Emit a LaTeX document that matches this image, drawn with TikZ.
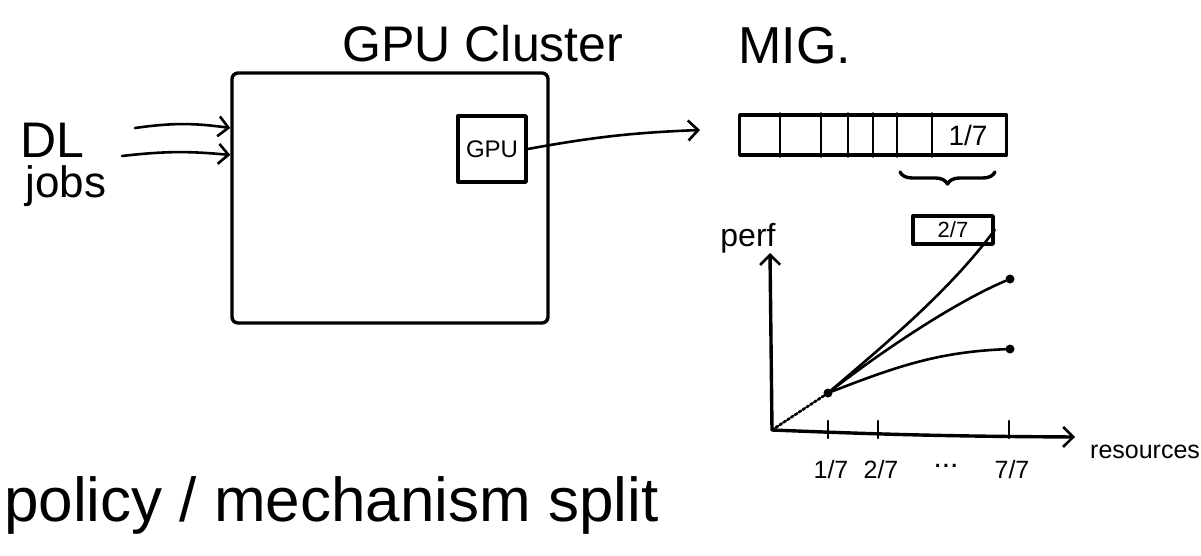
\documentclass[tikz,border=0pt]{standalone}
\usepackage{fontspec}
\setmainfont{Liberation Sans}
\usetikzlibrary{arrows.meta,decorations.pathreplacing}
\tikzset{
  ink/.style={line width=3.4pt, line cap=round, line join=round},
  thin ink/.style={line width=2.6pt, line cap=round, line join=round},
  barb/.style={-{Straight Barb[length=10pt,width=20pt,line width=2.6pt]}},
  lbl/.style={inner sep=0pt, font=#1},
  pt dot/.style={circle, fill, inner sep=0pt, minimum size=9pt}
}
\begin{document}
\begin{tikzpicture}[x=1pt,y=-1pt]
\useasboundingbox (0,0) rectangle (1201,556);

% titles and labels
\node[lbl=\fontsize{50}{54}\selectfont] (title) at (483,44) {GPU Cluster};
\node[lbl=\fontsize{50}{54}\selectfont] (dl) at (52,140) {DL};
\node[lbl=\fontsize{44}{48}\selectfont] (jobs) at (66,186) {jobs};
\node[lbl=\fontsize{52}{56}\selectfont] (mig) at (795,46) {MIG.};
\node[lbl=\fontsize{62}{66}\selectfont, anchor=west] (policy) at (4,505) {policy / mechanism split};

% the cluster
\node[ink, draw, rounded corners=6pt, minimum width=316pt, minimum height=250pt] (cluster) at (390,198) {};
\coordinate (in1) at (cluster.west |- 0,128);
\coordinate (in2) at (cluster.west |- 0,155);
\coordinate (src1) at (135,128);
\coordinate (src2) at (122,156);
\draw[thin ink, barb] (src1) to[bend left=8] (in1);
\draw[thin ink, barb] (src2) to[bend left=6] (in2);

% one GPU inside it
\node[ink, draw, minimum width=68pt, minimum height=66pt, lbl=\fontsize{24}{26}\selectfont] (gpu) at (492,149) {GPU};

% partitioned GPU
\node[ink, draw, minimum width=267pt, minimum height=40pt, anchor=west] (bar) at (738,135) {};
\foreach \xx in {780,821,848,873,897,932}
  \draw[thin ink] (\xx,0 |- bar.north) -- (\xx,0 |- bar.south);
\node[lbl=\fontsize{28}{30}\selectfont] (slice) at (968,135) {1/7};
\coordinate (mig in) at (700,130);
\draw[thin ink, barb] (gpu.east) to[bend left=4] (mig in);

% brace under the last slices
\coordinate (brace l) at (900,172);
\coordinate (brace r) at (995,172);
\draw[ink, decorate, decoration={brace, mirror, amplitude=12pt}] (brace l) -- (brace r);

% performance versus resources
\coordinate (origin) at (772,430);
\coordinate (ytop) at (770,253);
\coordinate (xend) at (1075,437);
\draw[ink, barb] (origin) -- (ytop);
\draw[ink, barb] (origin) to[bend right=1] (xend);
\node[lbl=\fontsize{32}{34}\selectfont] (perf) at (748,238) {perf};
\node[lbl=\fontsize{25}{27}\selectfont, anchor=west] (res) at (1090,452) {resources};

\foreach \xx/\nm/\txt in {828/t1/{1/7}, 878/t2/{2/7}, 1009/t7/{7/7}} {
  \draw[thin ink] (\xx,421) -- (\xx,438);
  \node[lbl=\fontsize{25}{27}\selectfont] (\nm) at (\xx+3,470) {\txt};
}
\node[lbl=\fontsize{30}{32}\selectfont] (dots) at (946,466) {...};

\node[ink, draw, minimum width=80pt, minimum height=28pt, lbl=\fontsize{22}{24}\selectfont] (two) at (953,230) {2/7};

\node[pt dot] (p0) at (828,393) {};
\node[pt dot] (p2) at (1010,279) {};
\node[pt dot] (p3) at (1010,349) {};
\draw[thin ink, dotted] (origin) -- (p0);
\draw[thin ink] (p0) .. controls (890,340) and (950,290) .. (two.east);
\draw[thin ink] (p0) .. controls (890,345) and (960,300) .. (p2);
\draw[thin ink] (p0) .. controls (900,365) and (940,352) .. (p3);
\end{tikzpicture}
\end{document}
